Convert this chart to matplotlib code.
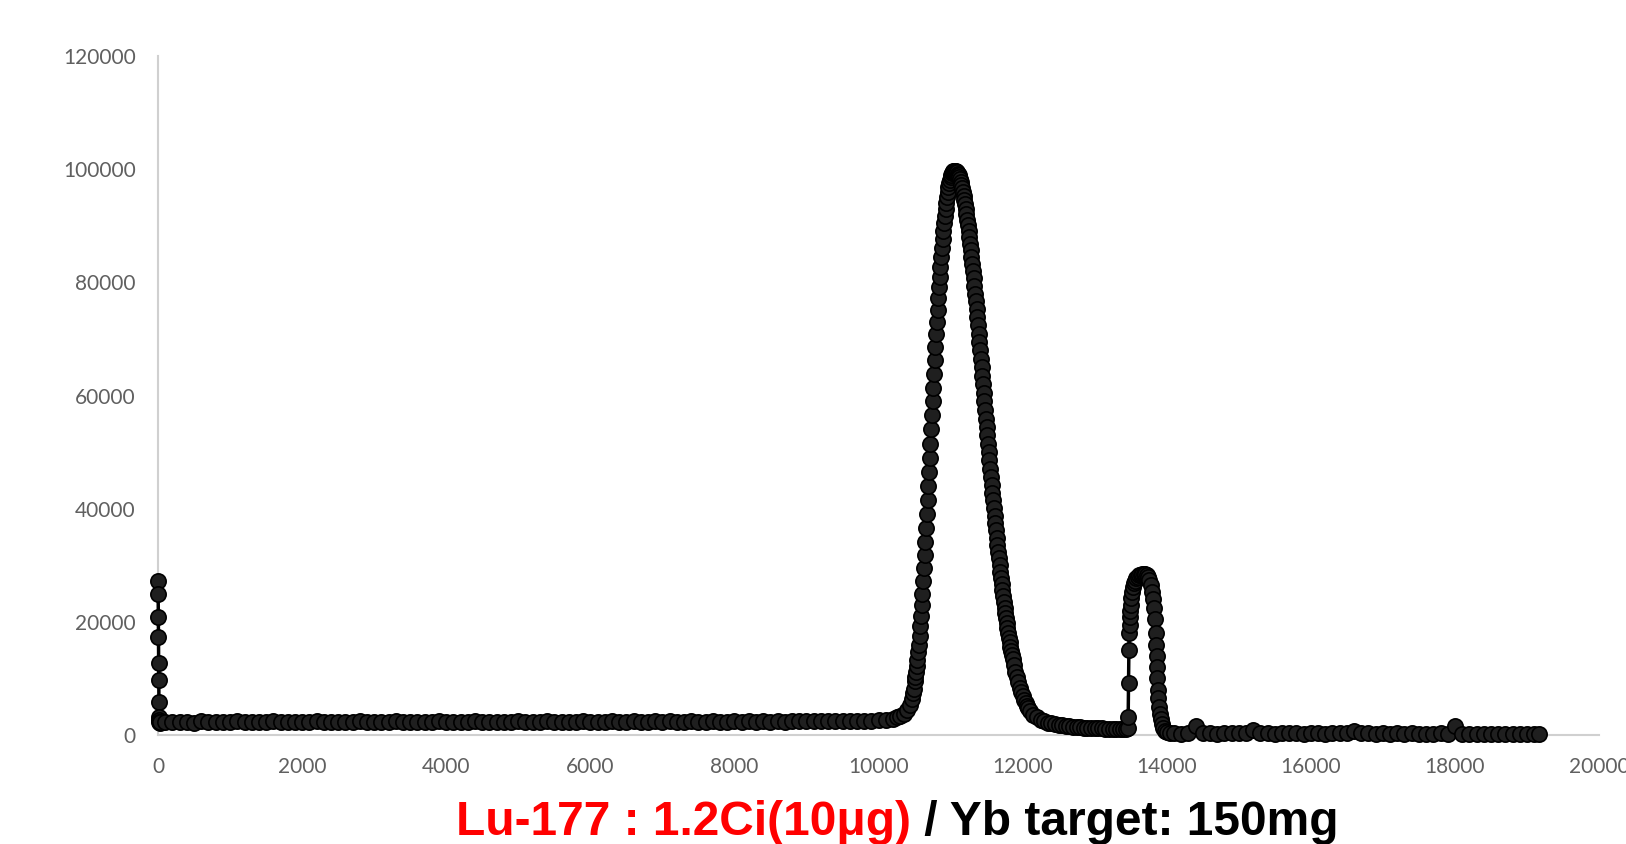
import numpy as np
import matplotlib
matplotlib.use('Agg')
import matplotlib.pyplot as plt

# start spike
spike_x = [0, 2, 4, 6, 8, 10, 12, 14, 16, 20, 25, 30]
spike_y = [27300, 24900, 20900, 17400, 12800, 9800, 5800, 3200, 2600, 2300, 2200, 2300]

# flat baseline before the main peak (every 100 from 100 to 10200)
base1_x = np.arange(100, 10201, 100)
base1_y = [2300, 2250, 2350, 2300, 2200, 2400, 2300, 2250, 2350, 2300,
           2400, 2300, 2350, 2250, 2300, 2400, 2350, 2300, 2250, 2350,
           2300, 2400, 2300, 2350, 2250, 2300, 2350, 2400, 2300, 2250,
           2350, 2300, 2400, 2350, 2300, 2250, 2350, 2300, 2400, 2300,
           2350, 2300, 2250, 2400, 2350, 2300, 2350, 2250, 2300, 2400,
           2300, 2350, 2300, 2400, 2250, 2350, 2300, 2350, 2400, 2300,
           2350, 2300, 2400, 2350, 2300, 2400, 2350, 2300, 2400, 2350,
           2400, 2350, 2300, 2400, 2350, 2300, 2400, 2350, 2300, 2400,
           2350, 2400, 2350, 2400, 2350, 2400, 2350, 2400, 2450, 2400,
           2450, 2400, 2450, 2500, 2450, 2500, 2550, 2500, 2550, 2600,
           2700, 2900]

# main peak
peak1_x = [10250, 10300, 10350, 10400, 10430, 10460, 10480, 10490,
           10500, 10510, 10520, 10530, 10540, 10550, 10560, 10570, 10580, 10590,
           10600, 10610, 10620, 10630, 10640, 10650, 10660, 10670, 10680, 10690,
           10700, 10710, 10720, 10730, 10740, 10750, 10760, 10770, 10780, 10790,
           10800, 10810, 10820, 10830, 10840, 10850, 10860, 10870, 10880, 10890,
           10900, 10910, 10920, 10930, 10940, 10950, 10960, 10970, 10980, 10990,
           11000, 11010, 11020, 11030, 11040, 11050, 11060,
           11070, 11080, 11090, 11100, 11110, 11120, 11130, 11140, 11150, 11160,
           11170, 11180, 11190, 11200, 11210, 11220, 11230, 11240, 11250, 11260,
           11270, 11280, 11290, 11300, 11310, 11320, 11330, 11340, 11350, 11360,
           11370, 11380, 11390, 11400, 11410, 11420, 11430, 11440, 11450, 11460,
           11470, 11480, 11490, 11500, 11510, 11520, 11530, 11540, 11550, 11560,
           11570, 11580, 11590, 11600, 11610, 11620, 11630, 11640, 11650, 11660,
           11670, 11680, 11690, 11700, 11710, 11720, 11730, 11740, 11750, 11760,
           11770, 11780, 11790, 11800, 11810, 11820, 11830, 11840, 11850, 11860,
           11880, 11900, 11920, 11940, 11960, 11980, 12000, 12020, 12040, 12060,
           12080, 12100, 12150, 12200, 12250, 12300, 12350, 12400, 12450, 12500,
           12550, 12600, 12650, 12700, 12750, 12800, 12850, 12900, 12950, 13000,
           13050, 13100, 13150, 13200, 13250, 13300, 13350, 13400, 13440]
peak1_y = [3200, 3400, 3800, 4500, 5300, 6400, 7500, 8200,
           9500, 10300, 11200, 12200, 13300, 14600, 16000, 17500, 19200, 21000,
           23000, 25000, 27200, 29500, 31800, 34200, 36600, 39000, 41500, 44000,
           46500, 49000, 51500, 54000, 56500, 59000, 61400, 63800, 66200, 68500,
           70800, 73000, 75100, 77200, 79100, 81000, 82800, 84500, 86100, 87700,
           89100, 90500, 91800, 93000, 94000, 95000, 95900, 96800, 97500, 98100,
           98600, 99000, 99300, 99500, 99650, 99700, 99700,
           99670, 99580, 99420, 99200, 98920, 98580, 98190, 97730, 97210, 96630,
           96000, 95310, 94570, 93780, 92930, 92030, 91090, 90100, 89060, 87990,
           86870, 85720, 84520, 83280, 82010, 80710, 79380, 78020, 76650, 75240,
           73820, 72390, 70940, 69470, 68000, 66520, 65020, 63510, 62000, 60470,
           58960, 57450, 55940, 54430, 52940, 51460, 49990, 48530, 47090, 45660,
           44240, 42840, 41460, 40100, 38760, 37440, 36150, 34880, 33630, 32410,
           31210, 30030, 28880, 27750, 26650, 25580, 24540, 23520, 22530, 21570,
           20640, 19740, 18860, 18010, 17190, 16400, 15630, 14890, 14180, 13490,
           12300, 11200, 10200, 9300, 8400, 7600, 6900, 6200, 5600, 5100,
           4700, 4300, 3600, 3100, 2700, 2400, 2200, 2050, 1900, 1800,
           1700, 1620, 1550, 1480, 1420, 1370, 1330, 1290, 1260, 1230,
           1200, 1170, 1150, 1130, 1110, 1100, 1090, 1080, 1070]

# second peak
peak2_x = [13460, 13465, 13470, 13475, 13480, 13485, 13490, 13495, 13500, 13510,
           13520, 13530, 13545, 13560, 13580, 13600, 13620, 13640, 13660, 13680,
           13700, 13720, 13740, 13760, 13780, 13800, 13815, 13830, 13840, 13850,
           13855, 13860, 13865, 13870, 13875, 13880, 13890, 13900, 13915, 13930,
           13950, 13975, 14000, 14050]
peak2_y = [1200, 3100, 9200, 15100, 18000, 19500, 20800, 22000, 23000, 24300,
           25300, 26100, 26800, 27300, 27700, 28000, 28200, 28350, 28450, 28500,
           28450, 28300, 28000, 27400, 26500, 25300, 24000, 22500, 20500, 18000,
           16000, 14000, 12000, 10000, 8000, 6500, 5000, 3800, 2800, 2000,
           1300, 800, 500, 300]

# low baseline after the second peak (every 100 from 14100 to 19100) + last point
base2_x = np.arange(14100, 19101, 100)
base2_y = [300, 250, 300, 1600, 350, 300, 250, 300, 350, 300,
           350, 900, 400, 300, 250, 300, 350, 300, 250, 300,
           300, 250, 300, 350, 300, 800, 350, 300, 250, 300,
           250, 300, 250, 300, 250, 200, 250, 300, 250, 1650,
           250, 200, 250, 200, 200, 250, 200, 150, 200, 150,
           150]
end_x = [19170]
end_y = [120]

title_red = 'Lu-177 : 1.2Ci(10\u03bcg)'
title_black = ' / Yb target: 150mg'

x = np.concatenate([spike_x, base1_x, peak1_x, peak2_x, base2_x, end_x])
y = np.concatenate([spike_y, base1_y, peak1_y, peak2_y, base2_y, end_y])

fig = plt.figure(figsize=(16.26, 8.44), dpi=100)
ax = fig.add_axes([0.0972, 0.1291, 0.8862, 0.8045])

ax.plot(x, y, color='black', lw=2.5, marker='o', markersize=11,
        markerfacecolor='#1f1f1f', markeredgecolor='black', markeredgewidth=1.2,
        clip_on=False, zorder=3)

ax.set_xlim(0, 20000)
ax.set_ylim(0, 120000)
ax.set_xticks(np.arange(0, 20001, 2000))
ax.set_yticks(np.arange(0, 120001, 20000))

for s in ['top', 'right']:
    ax.spines[s].set_visible(False)
for s in ['left', 'bottom']:
    ax.spines[s].set_color('#d0d0d0')
    ax.spines[s].set_linewidth(1.5)
    ax.spines[s].set_zorder(1)

ax.tick_params(axis='both', length=0, labelsize=15, labelcolor='#606060')
ax.tick_params(axis='y', pad=16)
ax.tick_params(axis='x', pad=16)
for lab in ax.get_xticklabels() + ax.get_yticklabels():
    lab.set_family('Lato')

# bottom title in two colours
t1 = fig.text(0.2804, 0.0107, title_red, color='#ff0000', fontsize=34.5,
              fontweight='bold', family=['Liberation Sans Narrow', 'Liberation Sans'],
              ha='left', va='baseline')
ax.annotate(title_black, xy=(1, 0), xycoords=t1, color='black', fontsize=34.5,
            fontweight='bold', family=['Liberation Sans Narrow', 'Liberation Sans'],
            ha='left', va='bottom', annotation_clip=False)

fig.savefig('out.png', dpi=100)
